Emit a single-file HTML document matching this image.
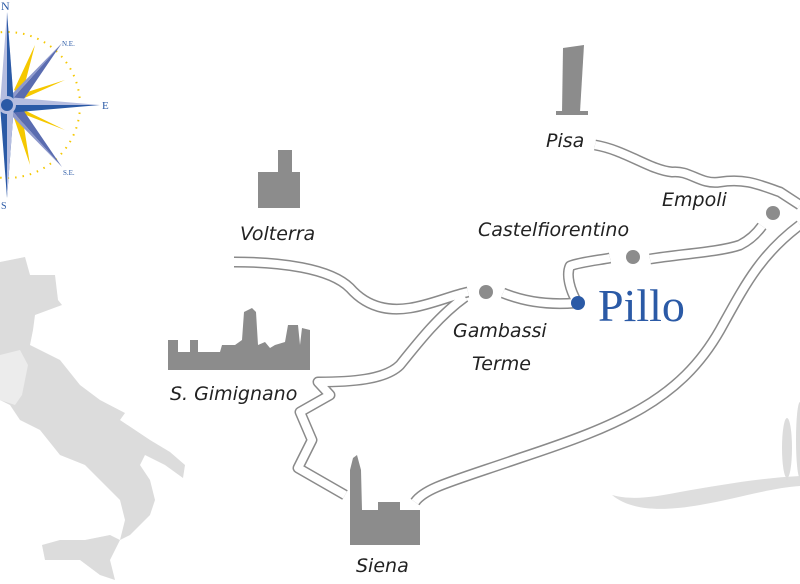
<!DOCTYPE html>
<html><head><meta charset="utf-8"><style>
html,body{margin:0;padding:0;background:#fff;}
svg{display:block;}
.lbl{font-family:"DejaVu Sans","Liberation Sans",sans-serif;font-style:italic;font-size:19px;fill:#222;font-weight:200;}
</style></head><body>
<svg width="800" height="584" viewBox="0 0 800 584" xmlns="http://www.w3.org/2000/svg">
<!-- Italy -->
<path fill="#dcdcdc" d="M0,262 L25,257 L30,275 L55,275 L58,300 L62,305 L35,315 L33,330 L30,345 L60,360 L80,385 L100,400 L125,413 L120,420 L150,440 L170,452 L185,465 L183,478 L165,465 L145,455 L140,465 L150,480 L155,500 L150,515 L130,535 L120,540 L125,520 L120,500 L100,480 L85,465 L60,455 L40,430 L20,420 L10,405 L0,400 Z"/>
<path fill="#dcdcdc" d="M42,545 L60,540 L85,540 L110,535 L120,540 L110,560 L115,580 L100,575 L80,560 L60,560 L45,560 Z"/>
<path fill="#ececec" d="M0,355 L20,350 L28,365 L22,395 L15,405 L0,400 Z"/>
<!-- hill bottom right -->
<path fill="#dedede" d="M612,495 C630,510 660,512 700,505 C740,498 770,488 800,486 L800,476 C760,478 720,485 680,492 C650,498 630,500 612,495 Z"/>
<ellipse cx="787" cy="448" rx="5" ry="30" fill="#dcdcdc"/>
<rect x="786" y="470" width="2" height="10" fill="#dcdcdc"/>
<ellipse cx="800" cy="440" rx="4" ry="38" fill="#dcdcdc"/>
<!-- roads -->
<g fill="none" stroke-linecap="butt" stroke-linejoin="round">
<g stroke="#8a8a8a" stroke-width="11">
<path id="a" d="M234,262 C280,262 330,268 350,288 C365,305 385,312 410,308 C430,305 450,296 468,292"/>
<path id="b" d="M465,297 C440,315 420,340 400,365 C385,380 350,382 318,382 L330,395 L300,412 L312,440 L298,468 L345,495"/>
<path id="c" d="M503,293 C525,302 550,305 575,303"/>
<path id="d" d="M577,302 C570,290 566,275 570,266 C580,262 600,260 610,258"/>
<path id="e" d="M650,259 C680,254 720,252 740,245 C750,240 757,233 762,226"/>
<path id="f" d="M595,145 C625,150 650,170 672,172 C690,170 700,185 720,182 C745,178 760,185 780,192 L800,205"/>
<path id="g" d="M415,502 C425,488 450,482 520,458 C620,425 680,400 720,330 C745,285 760,255 800,225"/>
</g>
<g stroke="#fff" stroke-width="8">
<use href="#a"/><use href="#b"/><use href="#c"/><use href="#d"/><use href="#e"/><use href="#f"/><use href="#g"/>
</g>
</g>
<!-- dots -->
<circle cx="486" cy="292" r="7" fill="#8c8c8c"/>
<circle cx="633" cy="257" r="7" fill="#8c8c8c"/>
<circle cx="773" cy="213" r="7" fill="#8c8c8c"/>
<circle cx="578" cy="303" r="7" fill="#2b5aa6"/>
<!-- icons -->
<g fill="#8c8c8c">
<path d="M563,48 L584,45 L580,112 L562,113 Z"/>
<rect x="556" y="111" width="32" height="4"/>
<path d="M258,208 L258,172 L278,172 L278,150 L292,150 L292,172 L300,172 L300,208 Z"/>
<path d="M168,370 L168,340 L178,340 L178,352 L190,352 L190,340 L198,340 L198,352 L220,352 L222,345 L235,345 L242,340 L244,312 L252,308 L256,312 L258,345 L265,342 L270,348 L275,345 L285,342 L288,325 L298,325 L300,345 L302,328 L310,330 L310,370 Z"/>
<path d="M350,545 L350,470 L353,458 L357,455 L361,470 L362,510 L378,510 L378,502 L400,502 L400,510 L420,510 L420,545 Z"/>
</g>
<!-- labels -->
<text class="lbl" x="546" y="147">Pisa</text>
<text class="lbl" x="662" y="206">Empoli</text>
<text class="lbl" x="478" y="236">Castelfiorentino</text>
<text class="lbl" x="240" y="240">Volterra</text>
<text class="lbl" x="453" y="337">Gambassi</text>
<text class="lbl" x="472" y="370">Terme</text>
<text class="lbl" x="170" y="400">S. Gimignano</text>
<text class="lbl" x="356" y="572">Siena</text>
<text x="598" y="321" font-family="Liberation Serif, serif" font-size="46" fill="#2b5aa6">Pillo</text>
<!-- compass -->
<circle cx="7" cy="105" r="73" fill="none" stroke="#f5c800" stroke-width="2" stroke-dasharray="1.5,6"/>
<g fill="#f5c800">
<path d="M14,90 L35,45 L22,95 Z"/><path d="M18,95 L65,80 L20,100 Z"/>
<path d="M18,112 L65,130 L20,108 Z"/><path d="M14,118 L30,165 L22,114 Z"/>
</g>
<path d="M7,105 L62,43 L15,112 Z" fill="#5a6cb0"/>
<path d="M7,105 L62,43 L10,96 Z" fill="#8d98cc"/>
<path d="M7,105 L62,167 L15,98 Z" fill="#5a6cb0"/>
<path d="M7,105 L62,167 L10,114 Z" fill="#8d98cc"/>
<path d="M7,97 L100,105 L7,105 Z" fill="#b5bde0"/>
<path d="M7,105 L100,105 L7,113 Z" fill="#2b5aa6"/>
<path d="M0,105 L7,12 L14,105 Z" fill="#b5bde0"/>
<path d="M7,12 L7,105 L14,105 Z" fill="#2b5aa6"/>
<path d="M0,105 L7,198 L14,105 Z" fill="#2b5aa6"/>
<path d="M7,105 L7,198 L14,105 Z" fill="#b5bde0"/>
<circle cx="7" cy="105" r="9" fill="#b5bde0"/>
<circle cx="7" cy="105" r="6" fill="#2b5aa6"/>
<g font-family="Liberation Serif,serif" fill="#2b5aa6">
<text x="1" y="10" font-size="12">N</text>
<text x="102" y="109" font-size="11">E</text>
<text x="1" y="209" font-size="10">S</text>
<text x="62" y="46" font-size="7">N.E.</text>
<text x="63" y="175" font-size="7">S.E.</text>
</g>
</svg>
</body></html>
